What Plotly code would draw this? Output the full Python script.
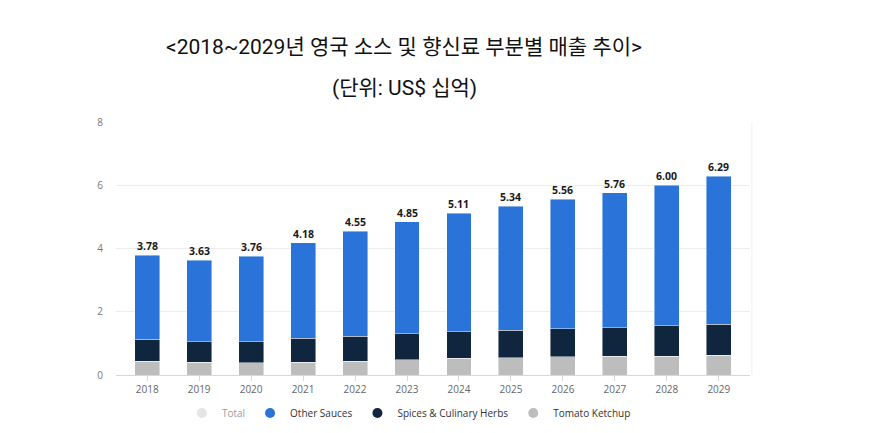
import plotly.graph_objects as go

years = ["2018","2019","2020","2021","2022","2023","2024","2025","2026","2027","2028","2029"]
totals = [3.78, 3.63, 3.76, 4.18, 4.55, 4.85, 5.11, 5.34, 5.56, 5.76, 6.00, 6.29]
tomato_ketchup = [0.44, 0.41, 0.38, 0.41, 0.44, 0.49, 0.53, 0.55, 0.58, 0.60, 0.60, 0.62]
spices_herbs = [0.69, 0.64, 0.67, 0.75, 0.78, 0.82, 0.84, 0.87, 0.89, 0.90, 0.95, 0.99]
other_sauces = [round(t - k - s, 2) for t, k, s in zip(totals, tomato_ketchup, spices_herbs)]
total_labels = [f"{v:.2f}" for v in totals]

title_line1 = "<2018~2029년 영국 소스 및 향신료 부분별 매출 추이>"
title_line2 = "(단위: US$ 십억)"

C_OTHER = "#2a73d9"
C_SPICE = "#10263f"
C_KETCH = "#bdbdbd"
C_TOTAL = "#cccccc"

fig = go.Figure()
line = dict(width=0.8, color="rgba(255,255,255,0.55)")
fig.add_trace(go.Bar(x=years, y=tomato_ketchup, marker=dict(color=C_KETCH, line=line), showlegend=False, name="Tomato Ketchup"))
fig.add_trace(go.Bar(x=years, y=spices_herbs, marker=dict(color=C_SPICE, line=line), showlegend=False, name="Spices & Culinary Herbs"))
fig.add_trace(go.Bar(x=years, y=other_sauces, marker=dict(color=C_OTHER, line=line), showlegend=False, name="Other Sauces"))

# legend entries (circles)
for name, col, vis in [("Total", C_TOTAL, "legendonly"), ("Other Sauces", C_OTHER, True),
                       ("Spices & Culinary Herbs", C_SPICE, True), ("Tomato Ketchup", C_KETCH, True)]:
    fig.add_trace(go.Scatter(x=[years[0]], y=[None], mode="markers", name=name, visible=vis,
                             marker=dict(symbol="circle", size=10, color=col)))

# total labels above each stack (x given as category index on the category axis)
label_annotations = [
    dict(x=i, y=tot, text=lab, showarrow=False, xanchor="center", yanchor="bottom", yshift=0,
         font=dict(size=10.5, color="#1a1a1a", family="Open Sans, sans-serif", weight="bold"))
    for i, (tot, lab) in enumerate(zip(totals, total_labels))
]

fig.update_layout(
    barmode="stack",
    bargap=0.52,
    width=883, height=425,
    margin=dict(l=108, r=141, t=114, b=58, autoexpand=False),
    paper_bgcolor="white", plot_bgcolor="white",
    font=dict(family="Open Sans, sans-serif", size=10, color="#666666"),
    legend=dict(orientation="h", x=0.462, xanchor="center", y=0.047, yanchor="middle",
                yref="container", traceorder="normal",
                font=dict(size=10, color="#333333"), itemclick=False, itemdoubleclick=False,
                itemwidth=30, tracegroupgap=0),
    xaxis=dict(type="category", range=[-0.6, 11.6], showgrid=False, showline=True,
               linecolor="#d8d8d8", linewidth=1, ticks="outside", ticklen=5, tickcolor="#d8d8d8",
               tickfont=dict(size=10, color="#666666"), automargin=False),
    yaxis=dict(range=[0, 8], tickvals=[0, 2, 4, 6, 8], showgrid=True, gridcolor="#ececec", gridwidth=1,
               zeroline=False, showline=False, ticks="", ticklabelstandoff=12,
               tickfont=dict(size=10, color="#777777"), automargin=False),
    annotations=[
        dict(text=title_line1, x=0.455, y=1.296, xref="paper", yref="paper", showarrow=False,
             xanchor="center", yanchor="middle",
             font=dict(size=21, color="#111111", family="Roboto, Noto Sans CJK KR, sans-serif")),
        dict(text=title_line2, x=0.455, y=1.134, xref="paper", yref="paper", showarrow=False,
             xanchor="center", yanchor="middle",
             font=dict(size=21, color="#111111", family="Roboto, Noto Sans CJK KR, sans-serif")),
    ] + label_annotations,
    shapes=[dict(type="line", xref="paper", yref="paper", x0=1.003, x1=1.003, y0=0, y1=1.0,
                 line=dict(color="#f0f0f0", width=1))],
)

fig.write_html("out.html")
